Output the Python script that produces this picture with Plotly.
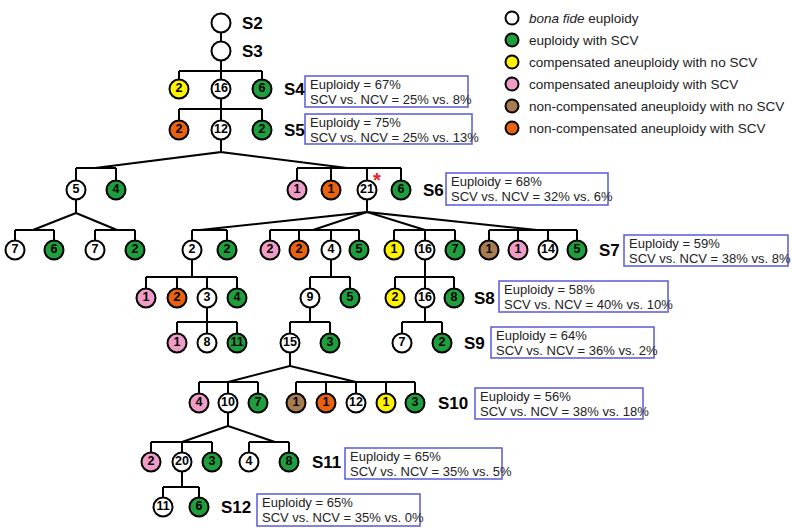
import plotly.graph_objects as go

# ---------------- data ----------------
stage_names = ["S2", "S3", "S4", "S5", "S6", "S7", "S8", "S9", "S10", "S11", "S12"]

box_stages   = ["S4", "S5", "S6", "S7", "S8", "S9", "S10", "S11", "S12"]
euploidy_pct = [67, 75, 68, 59, 58, 64, 56, 65, 65]
scv_pct      = [25, 25, 32, 38, 40, 36, 38, 35, 35]
ncv_pct      = [8, 13, 6, 8, 10, 2, 18, 5, 0]

category_keys   = ["W", "G", "Y", "P", "B", "O"]
category_labels = ["<i>bona fide</i> euploidy",
                   "euploidy with SCV",
                   "compensated aneuploidy with no SCV",
                   "compensated aneuploidy with SCV",
                   "non-compensated aneuploidy with no SCV",
                   "non-compensated aneuploidy with SCV"]

# tree: node id, embryo count, category, parent node, sub-branch of parent
node_ids = ["s2", "s3",
            "s4_y2", "s4_w16", "s4_g6",
            "s5_o2", "s5_w12", "s5_g2",
            "s6_w5", "s6_g4", "s6_p1", "s6_o1", "s6_w21", "s6_g6",
            "s7_w7a", "s7_g6", "s7_w7b", "s7_g2a",
            "s7_w2", "s7_g2b", "s7_p2", "s7_o2", "s7_w4", "s7_g5a",
            "s7_y1", "s7_w16", "s7_g7", "s7_b1", "s7_p1", "s7_w14", "s7_g5b",
            "s8_p1", "s8_o2", "s8_w3", "s8_g4", "s8_w9", "s8_g5", "s8_y2", "s8_w16", "s8_g8",
            "s9_p1", "s9_w8", "s9_g11", "s9_w15", "s9_g3", "s9_w7", "s9_g2",
            "s10_p4", "s10_w10", "s10_g7", "s10_b1", "s10_o1", "s10_w12", "s10_y1", "s10_g3",
            "s11_p2", "s11_w20", "s11_g3", "s11_w4", "s11_g8",
            "s12_w11", "s12_g6"]
node_counts = ["", "",
               "2", "16", "6",
               "2", "12", "2",
               "5", "4", "1", "1", "21", "6",
               "7", "6", "7", "2",
               "2", "2", "2", "2", "4", "5",
               "1", "16", "7", "1", "1", "14", "5",
               "1", "2", "3", "4", "9", "5", "2", "16", "8",
               "1", "8", "11", "15", "3", "7", "2",
               "4", "10", "7", "1", "1", "12", "1", "3",
               "2", "20", "3", "4", "8",
               "11", "6"]
node_cats = ["W", "W",
             "Y", "W", "G",
             "O", "W", "G",
             "W", "G", "P", "O", "W", "G",
             "W", "G", "W", "G",
             "W", "G", "P", "O", "W", "G",
             "Y", "W", "G", "B", "P", "W", "G",
             "P", "O", "W", "G", "W", "G", "Y", "W", "G",
             "P", "W", "G", "W", "G", "W", "G",
             "P", "W", "G", "B", "O", "W", "Y", "G",
             "P", "W", "G", "W", "G",
             "W", "G"]
node_parent = [None, "s2",
               "s3", "s3", "s3",
               "s4_w16", "s4_w16", "s4_w16",
               "s5_w12", "s5_w12", "s5_w12", "s5_w12", "s5_w12", "s5_w12",
               "s6_w5", "s6_w5", "s6_w5", "s6_w5",
               "s6_w21", "s6_w21", "s6_w21", "s6_w21", "s6_w21", "s6_w21",
               "s6_w21", "s6_w21", "s6_w21", "s6_w21", "s6_w21", "s6_w21", "s6_w21",
               "s7_w2", "s7_w2", "s7_w2", "s7_w2", "s7_w4", "s7_w4", "s7_w16", "s7_w16", "s7_w16",
               "s8_w3", "s8_w3", "s8_w3", "s8_w9", "s8_w9", "s8_w16", "s8_w16",
               "s9_w15", "s9_w15", "s9_w15", "s9_w15", "s9_w15", "s9_w15", "s9_w15", "s9_w15",
               "s10_w10", "s10_w10", "s10_w10", "s10_w10", "s10_w10",
               "s11_w20", "s11_w20"]
node_branch = [0, 0,
               0, 0, 0,
               0, 0, 0,
               0, 0, 1, 1, 1, 1,
               0, 0, 1, 1,
               0, 0, 1, 1, 1, 1,
               2, 2, 2, 3, 3, 3, 3,
               0, 0, 0, 0, 0, 0, 0, 0, 0,
               0, 0, 0, 0, 0, 0, 0,
               0, 0, 0, 1, 1, 1, 1, 1,
               0, 0, 0, 1, 1,
               0, 0]

# ---------------- layout (pixel positions of the diagram) ----------------
W, H = 792, 531
row_y = {"S2": 23, "S3": 51, "S4": 89, "S5": 130, "S6": 190, "S7": 250,
         "S8": 298, "S9": 343, "S10": 403, "S11": 462, "S12": 507}
node_x = {
    "s2": 221, "s3": 221,
    "s4_y2": 179, "s4_w16": 221, "s4_g6": 262,
    "s5_o2": 179, "s5_w12": 221, "s5_g2": 262,
    "s6_w5": 76, "s6_g4": 116, "s6_p1": 297, "s6_o1": 331, "s6_w21": 367, "s6_g6": 401,
    "s7_w7a": 15, "s7_g6": 54, "s7_w7b": 95, "s7_g2a": 135,
    "s7_w2": 192, "s7_g2b": 227, "s7_p2": 270, "s7_o2": 299, "s7_w4": 331, "s7_g5a": 359,
    "s7_y1": 394, "s7_w16": 425, "s7_g7": 455, "s7_b1": 489, "s7_p1": 518, "s7_w14": 548, "s7_g5b": 577,
    "s8_p1": 146, "s8_o2": 177, "s8_w3": 207, "s8_g4": 237, "s8_w9": 310, "s8_g5": 350,
    "s8_y2": 395, "s8_w16": 425, "s8_g8": 454,
    "s9_p1": 177, "s9_w8": 207, "s9_g11": 237, "s9_w15": 290, "s9_g3": 330, "s9_w7": 402, "s9_g2": 442,
    "s10_p4": 199, "s10_w10": 228, "s10_g7": 258, "s10_b1": 296, "s10_o1": 326, "s10_w12": 356,
    "s10_y1": 386, "s10_g3": 415,
    "s11_p2": 151, "s11_w20": 182, "s11_g3": 212, "s11_w4": 249, "s11_g8": 289,
    "s12_w11": 163, "s12_g6": 199,
}
# (parent, branch) -> (stem end y, junction x, bar y)
branch_geom = {
    ("s2", 0): (37, 221, 37),
    ("s3", 0): (71, 221, 71),
    ("s4_w16", 0): (109, 221, 109),
    ("s5_w12", 0): (152, 95, 168), ("s5_w12", 1): (152, 347, 168),
    ("s6_w5", 0): (213, 33, 230), ("s6_w5", 1): (213, 117, 230),
    ("s6_w21", 0): (212, 200, 230), ("s6_w21", 1): (212, 313, 230),
    ("s6_w21", 2): (212, 425, 230), ("s6_w21", 3): (212, 537, 230),
    ("s7_w2", 0): (277, 192, 277), ("s7_w4", 0): (277, 331, 277), ("s7_w16", 0): (277, 425, 277),
    ("s8_w3", 0): (322, 207, 322), ("s8_w9", 0): (322, 310, 322), ("s8_w16", 0): (322, 425, 322),
    ("s9_w15", 0): (366, 228, 382), ("s9_w15", 1): (366, 356, 382),
    ("s10_w10", 0): (426, 182, 442), ("s10_w10", 1): (426, 275, 442),
    ("s11_w20", 0): (487, 182, 487),
}
stage_label_x = {"S2": 240, "S3": 240, "S4": 282, "S5": 282, "S6": 421, "S7": 597,
                 "S8": 472, "S9": 462, "S10": 436, "S11": 310, "S12": 219}
# (x0, x1, y0, y1) of stat boxes
box_rect = {"S4": (305, 468, 76, 107), "S5": (305, 472, 114, 144), "S6": (446, 608, 173, 205),
            "S7": (624, 788, 235, 266), "S8": (499, 668, 281, 312), "S9": (491, 654, 327, 358),
            "S10": (475, 643, 388, 419), "S11": (345, 502, 448, 479), "S12": (257, 420, 494, 526)}

cat_color = {"W": "#ffffff", "G": "#1f9e3e", "Y": "#fff200", "P": "#ef9cc6",
             "B": "#a87c4f", "O": "#e8620f"}
FONT = "Liberation Sans, Arial, Helvetica, sans-serif"

def node_y(nid):
    if nid in ("s2", "s3"):
        return row_y[nid.upper()]
    return row_y[nid.split("_")[0].upper()]

# ---------------- build figure ----------------
fig = go.Figure()

# edges
ex, ey = [], []
groups = {}
for nid, par, br in zip(node_ids, node_parent, node_branch):
    if par is None:
        continue
    groups.setdefault((par, br), []).append(nid)
for (par, br), kids in groups.items():
    px, py = node_x[par], node_y(par)
    stem_y, jx, bar_y = branch_geom[(par, br)]
    ex += [px, px, jx, None]
    ey += [py, stem_y, bar_y, None]
    xs = [node_x[k] for k in kids]
    ex += [min(xs), max(xs), None]
    ey += [bar_y, bar_y, None]
    for k in kids:
        ex += [node_x[k], node_x[k], None]
        ey += [bar_y, node_y(k), None]
fig.add_trace(go.Scatter(x=ex, y=ey, mode="lines", line=dict(color="black", width=2),
                         hoverinfo="skip", showlegend=False))

# nodes
fig.add_trace(go.Scatter(
    x=[node_x[n] for n in node_ids], y=[node_y(n) for n in node_ids],
    mode="markers+text", text=node_counts, textposition="middle center",
    textfont=dict(family=FONT, size=12.5, color="black", weight="bold"),
    marker=dict(size=19, color=[cat_color[c] for c in node_cats],
                line=dict(color="black", width=2)),
    hoverinfo="skip", showlegend=False))

# legend
leg_y = [18, 40, 62, 84, 106, 128]
fig.add_trace(go.Scatter(x=[512] * 6, y=leg_y, mode="markers",
                         marker=dict(size=13, color=[cat_color[k] for k in category_keys],
                                     line=dict(color="black", width=2)),
                         hoverinfo="skip", showlegend=False))
annotations = []
for lab, yy in zip(category_labels, leg_y):
    annotations.append(dict(x=527, y=yy, text=lab, showarrow=False, xanchor="left",
                            yanchor="middle", font=dict(family=FONT, size=13.5, color="#222")))

# stage labels
for s in stage_names:
    annotations.append(dict(x=stage_label_x[s], y=row_y[s], text="<b>%s</b>" % s, showarrow=False,
                            xanchor="left", yanchor="middle",
                            font=dict(family=FONT, size=17, color="black")))

# stat boxes
shapes = []
for s, e, sc, nc in zip(box_stages, euploidy_pct, scv_pct, ncv_pct):
    x0, x1, y0, y1 = box_rect[s]
    shapes.append(dict(type="rect", x0=x0, x1=x1, y0=y0, y1=y1, xref="x", yref="y",
                       line=dict(color="#5a5ad8", width=1.5), fillcolor="rgba(0,0,0,0)"))
    annotations.append(dict(x=x0 + 3, y=y0 + 8.5, text="Euploidy = %d%%" % e, showarrow=False,
                            xanchor="left", yanchor="middle",
                            font=dict(family=FONT, size=13, color="#222")))
    annotations.append(dict(x=x0 + 3, y=y0 + 23, text="SCV vs. NCV = %d%% vs. %d%%" % (sc, nc),
                            showarrow=False, xanchor="left", yanchor="middle",
                            font=dict(family=FONT, size=13, color="#222")))

# red asterisk on the S6 founder node
annotations.append(dict(x=node_x["s6_w21"] + 10, y=node_y("s6_w21") - 10, text="<b>*</b>",
                        showarrow=False, xanchor="center", yanchor="middle",
                        font=dict(family=FONT, size=20, color="#e8202a")))

fig.update_layout(
    width=W, height=H, autosize=False,
    margin=dict(l=0, r=0, t=0, b=0),
    paper_bgcolor="white", plot_bgcolor="white",
    xaxis=dict(range=[0, W], visible=False, fixedrange=True),
    yaxis=dict(range=[H, 0], visible=False, fixedrange=True),
    shapes=shapes, annotations=annotations, showlegend=False,
)

fig.write_html("out.html", config={"displayModeBar": False},
               post_script="document.body.style.margin='0';document.body.style.overflow='hidden';")
